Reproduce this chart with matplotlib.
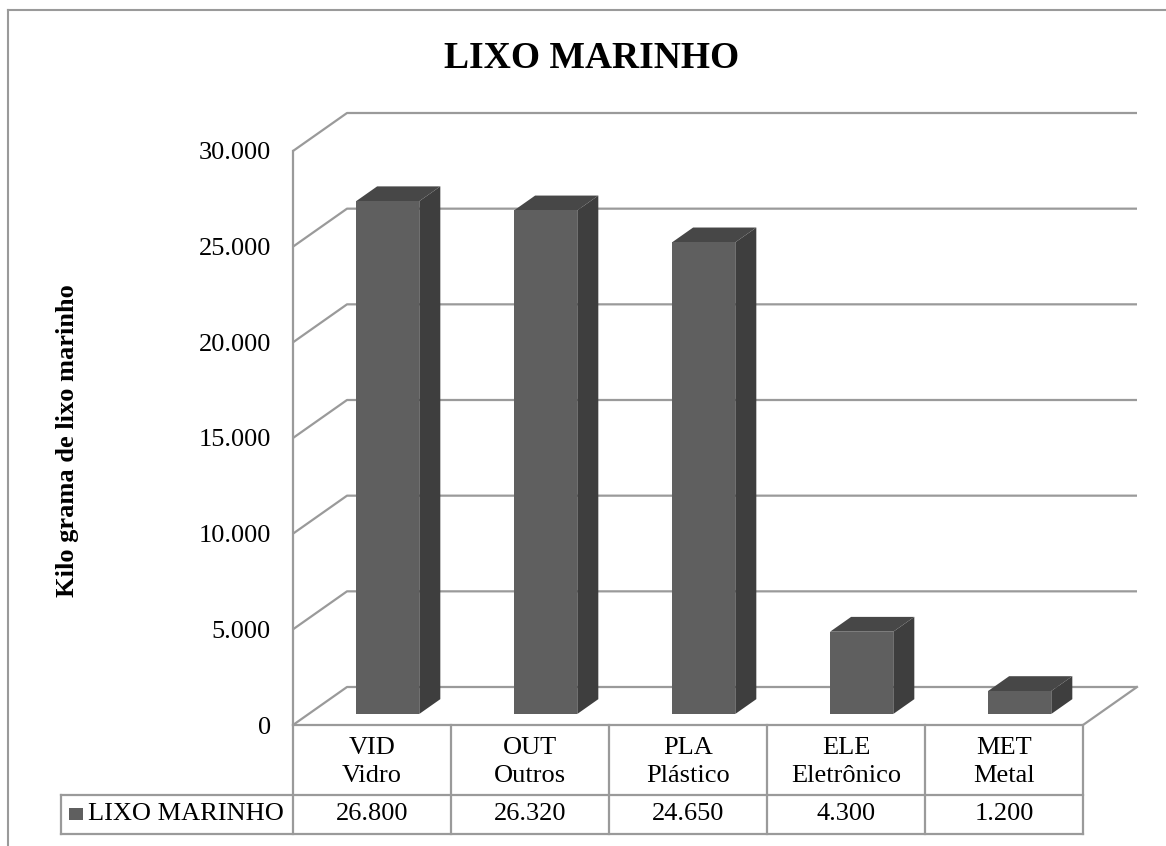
import numpy as np
import matplotlib.pyplot as plt
from matplotlib.patches import Polygon, Rectangle
from matplotlib.lines import Line2D
from matplotlib.ticker import FuncFormatter

# data
codes = ['VID', 'OUT', 'PLA', 'ELE', 'MET']
names = ['Vidro', 'Outros', 'Plástico', 'Eletrônico', 'Metal']
values = [26800, 26320, 24650, 4300, 1200]
series_name = 'LIXO MARINHO'
yticks = [0, 5000, 10000, 15000, 20000, 25000, 30000]
ymax = 30000

plt.rcParams['font.family'] = ['Liberation Serif', 'DejaVu Serif']

W, H = 1166, 846
fig = plt.figure(figsize=(W / 100, H / 100), dpi=100)

# front plane of the 3d box (pixels)
left, right, bottom, top = 293, 1083, 725, 151
ax = fig.add_axes([left / W, 1 - bottom / H, (right - left) / W, (bottom - top) / H])
n = len(codes)
ax.set_xlim(0, n)
ax.set_ylim(0, ymax)

# pixel -> data unit helpers
xpx = n / (right - left)
ypx = ymax / (bottom - top)

dx, dy = 54 * xpx, 38 * ypx        # wall depth
f0, f1 = 0.29, 0.68                # bar front / back depth fraction
bw = 0.40                          # bar width

grid_c = '#9a9a9a'
lw = 1.6

# walls + gridlines
for v in yticks:
    ax.plot([0, dx, n + dx], [v, v + dy, v + dy], color=grid_c, lw=lw,
            clip_on=False, zorder=1, solid_capstyle='butt')
ax.plot([0, 0], [0, ymax], color=grid_c, lw=lw, clip_on=False, zorder=1)
ax.plot([0, n, n + dx], [0, 0, dy], color=grid_c, lw=lw, clip_on=False, zorder=1)

# 3d columns
for i, v in enumerate(values):
    xl = i + 0.5 - bw / 2
    xr = i + 0.5 + bw / 2
    front = Rectangle((xl + f0 * dx, f0 * dy), bw, v, facecolor='#5f5f5f',
                      edgecolor='none', clip_on=False, zorder=3)
    side = Polygon([(xr + f0 * dx, f0 * dy), (xr + f1 * dx, f1 * dy),
                    (xr + f1 * dx, v + f1 * dy), (xr + f0 * dx, v + f0 * dy)],
                   closed=True, facecolor='#3e3e3e', edgecolor='none',
                   clip_on=False, zorder=3)
    topf = Polygon([(xl + f0 * dx, v + f0 * dy), (xr + f0 * dx, v + f0 * dy),
                    (xr + f1 * dx, v + f1 * dy), (xl + f1 * dx, v + f1 * dy)],
                   closed=True, facecolor='#474747', edgecolor='none',
                   clip_on=False, zorder=3)
    for p in (side, topf, front):
        ax.add_patch(p)

# y axis
ax.set_yticks(yticks)
ax.yaxis.set_major_formatter(FuncFormatter(lambda v, p: f'{int(v):,}'.replace(',', '.')))
ax.tick_params(axis='y', length=0, pad=16, labelsize=19)
ax.set_xticks([])
for s in ax.spines.values():
    s.set_visible(False)

# data table
row1 = -70 * ypx
row2 = -109 * ypx
leg_x = (61 - left) * xpx
tab_c = '#9a9a9a'
ax.plot([leg_x, n], [row1, row1], color=tab_c, lw=lw, clip_on=False)
ax.plot([leg_x, n], [row2, row2], color=tab_c, lw=lw, clip_on=False)
ax.plot([leg_x, leg_x], [row1, row2], color=tab_c, lw=lw, clip_on=False)
for i in range(n + 1):
    ax.plot([i, i], [0, row2], color=tab_c, lw=lw, clip_on=False)

for i in range(n):
    ax.text(i + 0.5, -37 * ypx, f'{codes[i]}\n{names[i]}', ha='center', va='center',
            fontsize=19, linespacing=1.35, clip_on=False)
    ax.text(i + 0.5, -89 * ypx, f'{values[i]:,}'.replace(',', '.'), ha='center',
            va='center', fontsize=19, clip_on=False)

ax.add_patch(Rectangle(((69 - left) * xpx, -95 * ypx), 14 * xpx, 12 * ypx,
                       facecolor='#5f5f5f', edgecolor='none', clip_on=False))
ax.text((88 - left) * xpx, -89 * ypx, series_name, ha='left', va='center',
        fontsize=19, clip_on=False)

# titles
fig.text(592 / W, 1 - 59 / H, 'LIXO MARINHO', ha='center', va='center',
         fontsize=27, fontweight='bold')
fig.text(68 / W, 1 - 441 / H, 'Kilo grama de lixo marinho', ha='center', va='center',
         rotation=90, fontsize=19, fontweight='bold')

# chart frame (partly cropped)
fig.add_artist(Line2D([8 / W, 8 / W], [0, 1 - 10 / H], transform=fig.transFigure,
                      color=grid_c, lw=1.5))
fig.add_artist(Line2D([8 / W, 1], [1 - 10 / H, 1 - 10 / H], transform=fig.transFigure,
                      color=grid_c, lw=1.5))

fig.savefig('out.png', dpi=100)
